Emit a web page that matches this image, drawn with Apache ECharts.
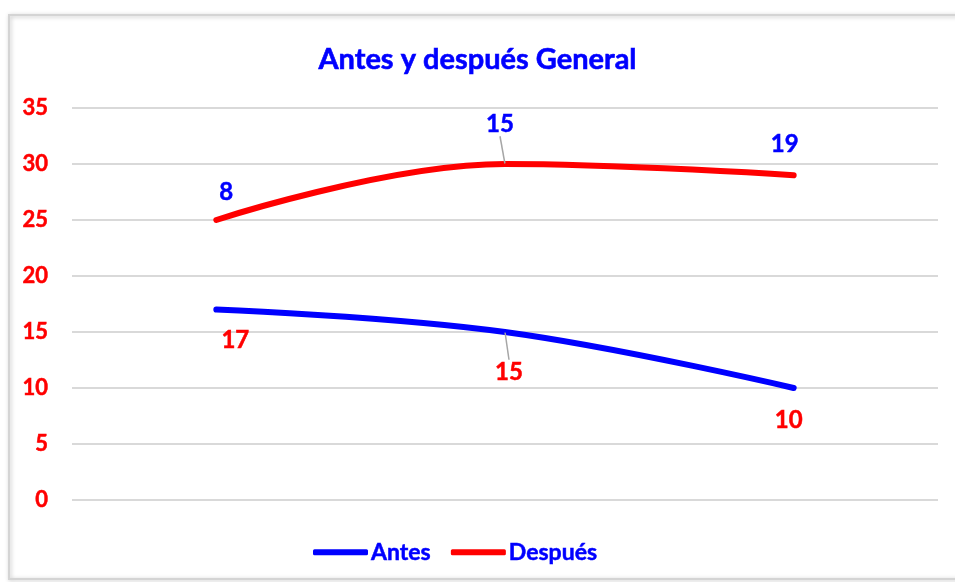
<!DOCTYPE html>
<html>
<head>
<meta charset="utf-8">
<script src="https://cdn.jsdelivr.net/npm/echarts@6/dist/echarts.min.js"></script>
<style>
html,body{margin:0;padding:0;background:#fff;}
#chart{width:955px;height:582px;}
</style>
</head>
<body>
<div id="chart"></div>
<script>
var categories = ['1', '2', '3'];
var antesValues = [17, 15, 10];
var despuesValues = [25, 30, 29];
var antesLabels = ['17', '15', '10'];
var despuesLabels = ['8', '15', '19'];
var yTicks = [0, 5, 10, 15, 20, 25, 30, 35];

var antesOffsets = [[19, 31], [4, 40], [-5, 32]];
var despuesOffsets = [[10, -28], [-5, -40], [-9, -31]];

var FONT = 'Lato, "Open Sans", sans-serif';

function buildData(values, labels, leaderIdx) {
  return values.map(function (v, i) {
    var item = { value: v, labelText: labels[i] };
    if (i === leaderIdx) item.labelLine = { show: true };
    return item;
  });
}

var chart = echarts.init(document.getElementById('chart'));
var option = {
  backgroundColor: '#ffffff',
  animation: false,
  title: {
    text: 'Antes y después General',
    left: 'center',
    top: 40,
    textStyle: { color: '#0000ff', fontSize: 29, fontWeight: 'bold', fontFamily: FONT,
      textBorderColor: '#0000ff', textBorderWidth: 0.6 }
  },
  graphic: [{
    type: 'rect',
    shape: { x: 9, y: 15, width: 980, height: 564 },
    style: { fill: 'none', stroke: '#d4d4d4', lineWidth: 2, shadowBlur: 4, shadowColor: 'rgba(0,0,0,0.25)', shadowOffsetX: 1, shadowOffsetY: 1 },
    silent: true,
    z: -1
  }],
  legend: {
    bottom: 13,
    left: 308,
    itemWidth: 55,
    itemHeight: 6,
    itemGap: 20,
    icon: 'roundRect',
    textStyle: { color: '#0000ff', fontSize: 23, fontWeight: 'bold', fontFamily: FONT, padding: [0, 0, 0, -2],
      textBorderColor: '#0000ff', textBorderWidth: 0.5 },
    data: ['Antes', 'Después']
  },
  grid: { left: 72, right: 17, top: 108, bottom: 82 },
  xAxis: {
    type: 'category',
    data: categories,
    boundaryGap: true,
    axisLine: { show: false },
    axisTick: { show: false },
    axisLabel: { show: false }
  },
  yAxis: {
    type: 'value',
    min: yTicks[0],
    max: yTicks[yTicks.length - 1],
    interval: 5,
    axisLine: { show: false },
    axisTick: { show: false },
    axisLabel: { color: '#ff0000', fontSize: 22, fontWeight: 'bold', fontFamily: FONT, margin: 24,
      textBorderColor: '#ff0000', textBorderWidth: 0.5 },
    splitLine: { lineStyle: { color: '#d9d9d9', width: 2 } }
  },
  series: [
    {
      name: 'Antes',
      type: 'line',
      smooth: 0.4,
      data: buildData(antesValues, antesLabels, 1),
      symbol: 'circle',
      symbolSize: 1,
      showSymbol: true,
      itemStyle: { color: '#0000ff' },
      lineStyle: { color: '#0000ff', width: 6, cap: 'round' },
      label: {
        show: true,
        position: 'inside',
        color: '#ff0000',
        fontSize: 24,
        fontWeight: 'bold',
        fontFamily: FONT,
        textBorderColor: '#ff0000',
        textBorderWidth: 0.5,
        formatter: function (p) { return p.data.labelText; }
      },
      labelLine: { show: false, lineStyle: { color: '#a6a6a6', width: 1.5 } },
      labelLayout: function (p) {
        var o = antesOffsets[p.dataIndex];
        return { dx: o[0], dy: o[1] };
      }
    },
    {
      name: 'Después',
      type: 'line',
      smooth: 0.4,
      data: buildData(despuesValues, despuesLabels, 1),
      symbol: 'circle',
      symbolSize: 1,
      showSymbol: true,
      itemStyle: { color: '#ff0000' },
      lineStyle: { color: '#ff0000', width: 6, cap: 'round' },
      label: {
        show: true,
        position: 'inside',
        color: '#0000ff',
        fontSize: 24,
        fontWeight: 'bold',
        fontFamily: FONT,
        textBorderColor: '#0000ff',
        textBorderWidth: 0.5,
        formatter: function (p) { return p.data.labelText; }
      },
      labelLine: { show: false, lineStyle: { color: '#a6a6a6', width: 1.5 } },
      labelLayout: function (p) {
        var o = despuesOffsets[p.dataIndex];
        return { dx: o[0], dy: o[1] };
      }
    }
  ]
};
chart.setOption(option);
</script>
</body>
</html>
